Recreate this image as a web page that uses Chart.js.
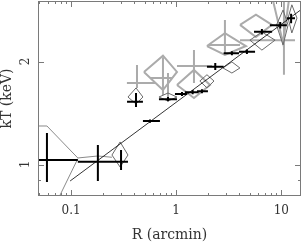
<!DOCTYPE html>
<html>
<head>
<meta charset="utf-8">
<script src="https://cdn.jsdelivr.net/npm/chart.js@4"></script>
<style>
  body { margin: 0; background: #fff; }
  canvas { display: block; }
</style>
</head>
<body>
<canvas id="myChart" width="304" height="249"></canvas>
<script>
// Data (R in arcmin, kT in keV)

// black crosses
const rBlk = [0.059, 0.180, 0.299, 0.415, 0.564, 0.836, 1.136, 1.435, 1.759, 2.355, 3.39, 4.71, 6.54, 9.77, 12.4];
const rBlkLo = [0.045, 0.116, 0.255, 0.341, 0.483, 0.686, 0.974, 1.21, 1.577, 1.963, 2.83, 3.96, 5.50, 7.8, 11.3];
const rBlkHi = [0.116, 0.270, 0.348, 0.483, 0.701, 1.018, 1.267, 1.637, 2.006, 2.83, 3.96, 5.63, 8.18, 11.3, 13.5];
const ktBlk = [1.031, 1.019, 1.019, 1.526, 1.340, 1.551, 1.607, 1.626, 1.637, 1.932, 2.114, 2.137, 2.445, 2.553, 2.676];
const ktBlkLo = [0.889, 0.895, 0.964, 1.473, 1.325, 1.530, 1.585, 1.605, 1.615, 1.89, 2.085, 2.105, 2.40, 2.50, 2.59];
const ktBlkHi = [1.236, 1.140, 1.102, 1.619, 1.355, 1.575, 1.630, 1.650, 1.660, 1.98, 2.145, 2.17, 2.49, 2.61, 2.76];

// grey crosses
const rGry = [0.424, 0.749, 0.836, 1.477, 2.91, 10.6];
const rGryLo = [0.34, 0.564, 0.836, 1.018, 2.04, 4.05];
const rGryHi = [0.629, 0.912, 0.836, 2.19, 4.05, 13.5];
const ktGry = [1.73, 1.79, 1.70, 1.941, 2.236, 2.31];
const ktGryLo = [1.674, 1.597, 1.545, 1.73, 2.09, 1.83];
const ktGryHi = [1.954, 2.06, 1.85, 2.162, 2.646, 3.5];

// grey diamonds (large)
const rDia = [0.749, 1.477, 2.91, 5.74, 10.4];
const rDiaLo = [0.494, 1.018, 1.963, 4.05, 8.1];
const rDiaHi = [1.018, 2.10, 4.61, 8.15, 12.0];
const ktDia = [1.865, 1.708, 2.22, 2.56, 3.13];
const ktDiaLo = [1.651, 1.565, 2.09, 2.36, 2.266];
const ktDiaHi = [2.08, 1.89, 2.42, 2.74, 4.0];

// thin diamonds
const rThin = [0.293, 0.415, 0.836, 1.963, 3.39, 6.54, 10.4, 12.6];
const rThinLo = [0.245, 0.348, 0.686, 1.68, 2.79, 5.03, 9.0, 11.6];
const rThinHi = [0.348, 0.483, 1.018, 2.29, 4.04, 8.73, 11.6, 14.1];
const ktThin = [1.066, 1.575, 1.575, 1.754, 1.915, 2.31, 2.557, 2.68];
const ktThinLo = [0.983, 1.503, 1.533, 1.675, 1.851, 2.16, 2.236, 2.424];
const ktThinHi = [1.164, 1.674, 1.618, 1.83, 1.995, 2.44, 2.83, 2.93];

// lines
const rFit = [0.098, 16];
const ktFit = [0.895, 2.86];
const rLine1 = [0.045, 0.059, 0.116, 0.180, 0.245];
const ktLine1 = [1.296, 1.296, 1.045, 1.059, 1.05];
const rLine2 = [0.075, 0.116];
const ktLine2 = [0.79, 1.04];

// axes
const xTicks = [0.05, 0.06, 0.07, 0.08, 0.09, 0.1, 0.2, 0.3, 0.4, 0.5, 0.6, 0.7, 0.8, 0.9, 1, 2, 3, 4, 5, 6, 7, 8, 9, 10];
const xLabels = [0.1, 1, 10];
const yTicks = [0.9, 1, 2, 3];
const yLabels = [1, 2];

// helpers building segment lists (null y = gap)

function crosses(x, xlo, xhi, y, ylo, yhi) {
  let pts = [];
  for (let i = 0; i < x.length; i++) {
    pts.push({ x: xlo[i], y: y[i] }, { x: xhi[i], y: y[i] }, { x: x[i], y: null });
    pts.push({ x: x[i], y: ylo[i] }, { x: x[i], y: yhi[i] }, { x: x[i], y: null });
  }
  return pts;
}

function diamonds(x, xlo, xhi, y, ylo, yhi) {
  let pts = [];
  for (let i = 0; i < x.length; i++) {
    pts.push(
      { x: xlo[i], y: y[i] },
      { x: x[i], y: yhi[i] },
      { x: xhi[i], y: y[i] },
      { x: x[i], y: ylo[i] },
      { x: xlo[i], y: y[i] },
      { x: x[i], y: null }
    );
  }
  return pts;
}

function line(x, y) {
  return x.map((v, i) => ({ x: v, y: y[i] }));
}

function seg(data, color, width) {
  return {
    data: data,
    showLine: true,
    borderColor: color,
    borderWidth: width,
    pointRadius: 0,
    spanGaps: false,
    borderCapStyle: "butt",
  };
}

// frame, inward ticks and rotated y labels

const frame = {
  id: "frame",
  afterDatasetsDraw(chart) {
    const { ctx, chartArea: a, scales } = chart;
    const xs = scales.x;
    const ys = scales.y;
    ctx.save();
    ctx.strokeStyle = "#7a7a7a";
    ctx.lineWidth = 1;
    ctx.strokeRect(a.left + 0.5, a.top + 0.5, a.right - a.left - 1, a.bottom - a.top - 1);
    ctx.beginPath();
    xTicks.forEach(v => {
      let px = Math.round(xs.getPixelForValue(v)) + 0.5;
      let len = xLabels.includes(v) ? 6 : 3;
      ctx.moveTo(px, a.bottom);
      ctx.lineTo(px, a.bottom - len);
      ctx.moveTo(px, a.top);
      ctx.lineTo(px, a.top + len);
    });
    yTicks.forEach(v => {
      let py = Math.round(ys.getPixelForValue(v)) + 0.5;
      let len = yLabels.includes(v) ? 6 : 3;
      ctx.moveTo(a.left, py);
      ctx.lineTo(a.left + len, py);
      ctx.moveTo(a.right, py);
      ctx.lineTo(a.right - len, py);
    });
    ctx.stroke();

    ctx.fillStyle = "#333";
    ctx.font = "12px 'DejaVu Serif'";
    ctx.textAlign = "center";
    ctx.textBaseline = "bottom";
    yLabels.forEach(v => {
      let py = ys.getPixelForValue(v);
      ctx.save();
      ctx.translate(a.left - 6, py);
      ctx.rotate(-Math.PI / 2);
      ctx.fillText(String(v), 0, 0);
      ctx.restore();
    });
    ctx.restore();
  },
};

const ctx = document.getElementById("myChart").getContext("2d");
const chart = new Chart(ctx, {
  type: "scatter",
  data: {
    datasets: [
      seg(crosses(rBlk, rBlkLo, rBlkHi, ktBlk, ktBlkLo, ktBlkHi), "#000", 2),
      seg(line(rFit, ktFit), "#000", 0.8),
      seg(diamonds(rThin, rThinLo, rThinHi, ktThin, ktThinLo, ktThinHi), "#6a6a6a", 1),
      seg(line(rLine1, ktLine1), "#8a8a8a", 1),
      seg(line(rLine2, ktLine2), "#8a8a8a", 1),
      seg(crosses(rGry, rGryLo, rGryHi, ktGry, ktGryLo, ktGryHi), "#ababab", 2),
      seg(diamonds(rDia, rDiaLo, rDiaHi, ktDia, ktDiaLo, ktDiaHi), "#ababab", 2),
    ],
  },
  options: {
    responsive: false,
    animation: false,
    layout: { padding: { top: 1, right: 3, left: 0, bottom: 0 } },
    plugins: {
      legend: { display: false },
      tooltip: { enabled: false },
    },
    scales: {
      x: {
        type: "logarithmic",
        min: 0.0485,
        max: 15.4,
        grid: { display: false, drawTicks: false },
        border: { display: false },
        afterBuildTicks: s => {
          s.ticks = xLabels.map(v => ({ value: v }));
        },
        afterFit: s => {
          s.height = 53;
        },
        ticks: {
          autoSkip: false,
          maxRotation: 0,
          padding: 8,
          color: "#333",
          font: { family: "DejaVu Serif", size: 12 },
          callback: v => String(v),
        },
        title: {
          display: true,
          text: "R (arcmin)",
          color: "#333",
          font: { family: "DejaVu Serif", size: 14, lineHeight: 1.2 },
          padding: { top: 0, bottom: 5 },
        },
      },
      y: {
        type: "logarithmic",
        min: 0.809,
        max: 3.006,
        grid: { display: false, drawTicks: false },
        border: { display: false },
        ticks: { display: false },
        afterFit: s => {
          s.width = 38;
        },
        title: {
          display: true,
          text: "kT (keV)",
          color: "#333",
          font: { family: "DejaVu Serif", size: 14, lineHeight: 1 },
          padding: { top: 0, bottom: 0 },
        },
      },
    },
  },
  plugins: [frame],
});
</script>
</body>
</html>
